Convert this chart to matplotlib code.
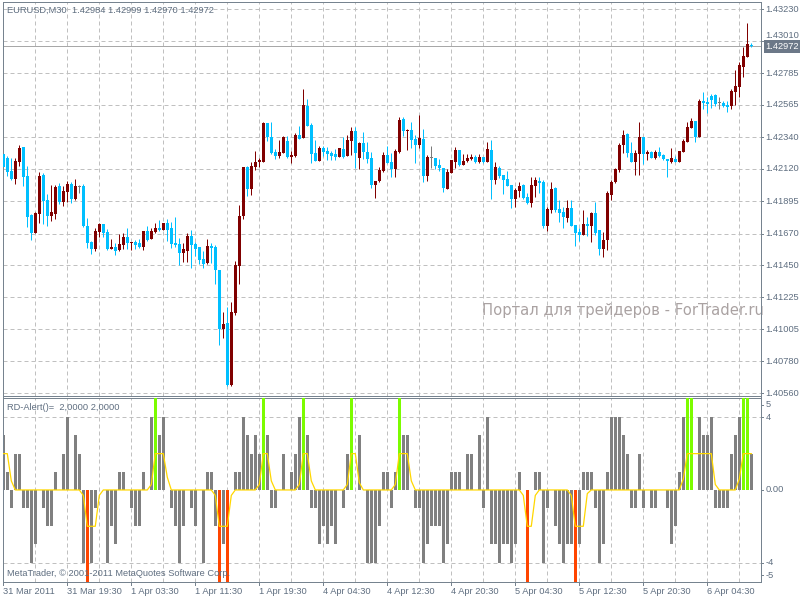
import matplotlib
matplotlib.use("Agg")
import matplotlib.pyplot as plt
from matplotlib.transforms import blended_transform_factory as btf

plt.rcParams['font.family'] = ['Liberation Sans', 'DejaVu Sans']

# ---------------- data: EURUSD M30 candles ----------------
opens = [1.42224, 1.42196, 1.42105, 1.42050, 1.42168, 1.42272, 1.42070, 1.41799, 1.41674, 1.41806,
         1.42077, 1.41903, 1.41792, 1.41806, 1.42001, 1.41889, 1.41959, 1.42015, 1.41910, 1.41994,
         1.42001, 1.41722, 1.41611, 1.41562, 1.41681, 1.41736, 1.41681, 1.41562, 1.41576, 1.41555,
         1.41590, 1.41646, 1.41604, 1.41611, 1.41604, 1.41576, 1.41688, 1.41632, 1.41681, 1.41708,
         1.41695, 1.41743, 1.41708, 1.41604, 1.41597, 1.41534, 1.41548, 1.41653, 1.41597, 1.41576,
         1.41493, 1.41465, 1.41583, 1.41576, 1.41416, 1.41006, 1.41047, 1.40616, 1.41117, 1.41444,
         1.41792, 1.42133, 1.41980, 1.42133, 1.42168, 1.42168, 1.42439, 1.42342, 1.42237, 1.42210,
         1.42230, 1.42314, 1.42203, 1.42210, 1.42356, 1.42335, 1.42558, 1.42425, 1.42230, 1.42175,
         1.42265, 1.42244, 1.42230, 1.42224, 1.42203, 1.42258, 1.42210, 1.42314, 1.42384, 1.42196,
         1.42300, 1.42237, 1.42196, 1.42008, 1.42036, 1.42105, 1.42217, 1.42168, 1.42119, 1.42237,
         1.42467, 1.42384, 1.42391, 1.42328, 1.42286, 1.42328, 1.42070, 1.42196, 1.42196, 1.42147,
         1.42126, 1.41980, 1.42091, 1.42168, 1.42251, 1.42147, 1.42175, 1.42189, 1.42203, 1.42168,
         1.42203, 1.42168, 1.42251, 1.42043, 1.42126, 1.42077, 1.42050, 1.42008, 1.41910, 1.41966,
         1.42008, 1.41924, 1.41882, 1.42001, 1.42036, 1.42029, 1.41722, 1.41834, 1.41987, 1.41841,
         1.41820, 1.41778, 1.41848, 1.41729, 1.41681, 1.41660, 1.41736, 1.41722, 1.41813, 1.41695,
         1.41562, 1.41625, 1.41938, 1.42029, 1.42112, 1.42286, 1.42363, 1.42230, 1.42168, 1.42224,
         1.42342, 1.42224, 1.42237, 1.42196, 1.42237, 1.42217, 1.42189, 1.42168, 1.42189, 1.42168,
         1.42237, 1.42307, 1.42404, 1.42453, 1.42342, 1.42592, 1.42585, 1.42627, 1.42634, 1.42578,
         1.42578, 1.42565, 1.42558, 1.42655, 1.42690, 1.42829, 1.42899, 1.42984]
highs = [1.42258, 1.42210, 1.42196, 1.42196, 1.42286, 1.42272, 1.42140, 1.41806, 1.41820, 1.42098,
         1.42091, 1.41945, 1.42008, 1.42008, 1.42022, 1.42001, 1.42036, 1.42029, 1.42050, 1.42008,
         1.42015, 1.41778, 1.41618, 1.41708, 1.41743, 1.41736, 1.41702, 1.41632, 1.41604, 1.41667,
         1.41674, 1.41708, 1.41611, 1.41625, 1.41632, 1.41688, 1.41722, 1.41708, 1.41743, 1.41764,
         1.41743, 1.41771, 1.41750, 1.41785, 1.41639, 1.41604, 1.41674, 1.41695, 1.41611, 1.41576,
         1.41548, 1.41632, 1.41604, 1.41590, 1.41416, 1.41124, 1.41159, 1.41193, 1.41479, 1.41869,
         1.42133, 1.42140, 1.42168, 1.42244, 1.42196, 1.42446, 1.42439, 1.42446, 1.42258, 1.42321,
         1.42349, 1.42349, 1.42244, 1.42370, 1.42418, 1.42676, 1.42606, 1.42439, 1.42321, 1.42279,
         1.42279, 1.42272, 1.42244, 1.42258, 1.42265, 1.42342, 1.42356, 1.42411, 1.42411, 1.42307,
         1.42377, 1.42307, 1.42237, 1.42036, 1.42133, 1.42237, 1.42279, 1.42230, 1.42258, 1.42481,
         1.42481, 1.42398, 1.42446, 1.42356, 1.42495, 1.42398, 1.42217, 1.42279, 1.42196, 1.42189,
         1.42126, 1.42119, 1.42182, 1.42272, 1.42251, 1.42224, 1.42224, 1.42224, 1.42217, 1.42224,
         1.42203, 1.42307, 1.42321, 1.42168, 1.42140, 1.42077, 1.42105, 1.42008, 1.41987, 1.42029,
         1.42015, 1.41952, 1.42063, 1.42063, 1.42063, 1.42043, 1.41855, 1.42029, 1.41994, 1.41903,
         1.41855, 1.41903, 1.41903, 1.41729, 1.41708, 1.41834, 1.41785, 1.41820, 1.41889, 1.41695,
         1.41681, 1.41966, 1.42043, 1.42126, 1.42300, 1.42391, 1.42370, 1.42307, 1.42251, 1.42446,
         1.42342, 1.42251, 1.42244, 1.42251, 1.42272, 1.42224, 1.42189, 1.42265, 1.42210, 1.42244,
         1.42328, 1.42446, 1.42474, 1.42453, 1.42606, 1.42655, 1.42620, 1.42641, 1.42641, 1.42620,
         1.42592, 1.42592, 1.42676, 1.42808, 1.42864, 1.42968, 1.43135, 1.42999]
lows = [1.42126, 1.42070, 1.42043, 1.42015, 1.42140, 1.42001, 1.41715, 1.41625, 1.41674, 1.41743,
        1.41736, 1.41722, 1.41757, 1.41771, 1.41876, 1.41862, 1.41889, 1.41882, 1.41903, 1.41952,
        1.41715, 1.41569, 1.41528, 1.41548, 1.41646, 1.41646, 1.41555, 1.41562, 1.41521, 1.41548,
        1.41562, 1.41562, 1.41555, 1.41562, 1.41569, 1.41555, 1.41618, 1.41632, 1.41674, 1.41688,
        1.41695, 1.41618, 1.41569, 1.41576, 1.41451, 1.41472, 1.41472, 1.41430, 1.41514, 1.41458,
        1.41430, 1.41458, 1.41465, 1.41319, 1.40894, 1.40943, 1.40609, 1.40609, 1.41103, 1.41319,
        1.41771, 1.41931, 1.41938, 1.42112, 1.42133, 1.42168, 1.42314, 1.42224, 1.42189, 1.42196,
        1.42230, 1.42196, 1.42161, 1.42203, 1.42328, 1.42335, 1.42418, 1.42161, 1.42175, 1.42175,
        1.42210, 1.42182, 1.42182, 1.42182, 1.42203, 1.42196, 1.42210, 1.42217, 1.42126, 1.42119,
        1.42189, 1.42161, 1.41987, 1.41917, 1.42029, 1.42098, 1.42161, 1.42063, 1.42063, 1.42230,
        1.42349, 1.42251, 1.42265, 1.42161, 1.42265, 1.42029, 1.42036, 1.42126, 1.42119, 1.42105,
        1.41959, 1.41980, 1.42091, 1.42126, 1.42140, 1.42147, 1.42168, 1.42182, 1.42161, 1.42161,
        1.42161, 1.42168, 1.41910, 1.42015, 1.42056, 1.41945, 1.42001, 1.41848, 1.41855, 1.41924,
        1.41910, 1.41876, 1.41855, 1.41924, 1.41952, 1.41708, 1.41688, 1.41813, 1.41820, 1.41750,
        1.41708, 1.41750, 1.41722, 1.41583, 1.41618, 1.41660, 1.41653, 1.41611, 1.41660, 1.41521,
        1.41507, 1.41555, 1.41903, 1.42022, 1.42098, 1.42230, 1.42203, 1.42168, 1.42077, 1.42077,
        1.42154, 1.42182, 1.42196, 1.42189, 1.42203, 1.42182, 1.42063, 1.42161, 1.42168, 1.42168,
        1.42237, 1.42307, 1.42404, 1.42307, 1.42342, 1.42537, 1.42509, 1.42544, 1.42558, 1.42537,
        1.42551, 1.42516, 1.42537, 1.42565, 1.42620, 1.42759, 1.42899, 1.42970]
closes = [1.42133, 1.42098, 1.42050, 1.42175, 1.42265, 1.42063, 1.41785, 1.41674, 1.41813, 1.42070,
          1.41896, 1.41792, 1.41820, 1.41994, 1.41889, 1.41966, 1.42015, 1.41910, 1.42001, 1.41994,
          1.41722, 1.41604, 1.41562, 1.41688, 1.41736, 1.41674, 1.41562, 1.41576, 1.41548, 1.41597,
          1.41646, 1.41604, 1.41611, 1.41590, 1.41576, 1.41688, 1.41625, 1.41688, 1.41708, 1.41695,
          1.41743, 1.41695, 1.41597, 1.41590, 1.41534, 1.41562, 1.41653, 1.41590, 1.41562, 1.41486,
          1.41458, 1.41583, 1.41569, 1.41416, 1.41006, 1.41040, 1.40616, 1.41124, 1.41451, 1.41792,
          1.42133, 1.41980, 1.42140, 1.42168, 1.42182, 1.42439, 1.42342, 1.42230, 1.42210, 1.42237,
          1.42342, 1.42203, 1.42217, 1.42356, 1.42328, 1.42565, 1.42418, 1.42224, 1.42175, 1.42265,
          1.42237, 1.42224, 1.42210, 1.42203, 1.42265, 1.42203, 1.42321, 1.42384, 1.42230, 1.42300,
          1.42237, 1.42189, 1.42008, 1.42036, 1.42112, 1.42217, 1.42161, 1.42119, 1.42244, 1.42460,
          1.42384, 1.42391, 1.42321, 1.42286, 1.42335, 1.42070, 1.42203, 1.42196, 1.42140, 1.42126,
          1.41987, 1.42098, 1.42182, 1.42251, 1.42147, 1.42175, 1.42196, 1.42203, 1.42168, 1.42203,
          1.42168, 1.42258, 1.42043, 1.42133, 1.42070, 1.42043, 1.42001, 1.41910, 1.41973, 1.42001,
          1.41917, 1.41882, 1.42008, 1.42043, 1.42022, 1.41722, 1.41841, 1.41980, 1.41834, 1.41813,
          1.41785, 1.41848, 1.41722, 1.41674, 1.41660, 1.41736, 1.41722, 1.41813, 1.41674, 1.41562,
          1.41625, 1.41952, 1.42029, 1.42119, 1.42286, 1.42356, 1.42230, 1.42168, 1.42230, 1.42342,
          1.42224, 1.42237, 1.42196, 1.42237, 1.42210, 1.42189, 1.42175, 1.42196, 1.42168, 1.42244,
          1.42314, 1.42411, 1.42453, 1.42342, 1.42592, 1.42578, 1.42572, 1.42599, 1.42572, 1.42578,
          1.42558, 1.42551, 1.42662, 1.42697, 1.42843, 1.42906, 1.42989, 1.42972]

# ---------------- data: RD-Alert indicator ----------------
hist = [3, 1, -1, 2, 2, -1, -1, -4, -3, 0,
        -1, -2, -2, 1, 0, 2, 4, 0, 3, 2,
        -4, 0, -4, -1, 0, 0, -4, -2, -3, 1,
        1, 0, -1, -2, -2, 1, 0, 4, 0, 3,
        4, 0, -1, -2, -4, -2, 0, -1, -2, 0,
        -4, 1, 1, -2, 0, -3, 0, 0, 1, 1,
        4, 3, 2, 3, 2, 0, 3, -1, -1, 0,
        2, 0, 1, 2, 4, 0, 3, -1, -1, -3,
        -2, -3, -2, -3, 0, -1, 2, 0, 0, 3,
        0, -4, -4, -4, -2, 1, 1, -1, 1, 0,
        3, 3, 0, -1, -1, -4, -3, -2, -2, -2,
        -4, -3, 1, 1, 1, 0, 2, 2, 0, 3,
        -1, 4, -3, -3, -4, -3, -3, -4, -3, 1,
        0, 0, 0, 1, 1, -4, -1, 0, -2, -3,
        -4, -3, -3, 0, -3, 1, 1, 1, -1, -4,
        -3, 1, 4, 4, 4, 3, 2, -1, -1, 2,
        -1, 0, -1, -1, 0, 0, -1, -3, -2, 1,
        4, 0, 0, 0, 4, 3, 3, 4, -1, -1,
        -1, -1, 2, 3, 4, 0, 0, 2]
up_signals = [38, 65, 75, 87, 99, 171, 172, 185, 186]
down_signals = [21, 54, 56, 131, 143]
signal_level = 5.3
yellow_nonzero = {0: 2, 1: 2, 2: 0.5,
                  20: -0.3, 21: -2, 22: -2, 23: -2, 24: -0.3,
                  37: 0.3, 38: 2, 39: 2, 40: 2, 41: 0.7,
                  53: -0.3, 54: -2, 55: -2, 56: -2, 57: -0.3,
                  64: 0.3, 65: 2, 66: 2, 67: 0.5,
                  74: 0.3, 75: 2, 76: 2, 77: 0.5,
                  86: 0.3, 87: 2, 88: 2, 89: 0.4,
                  98: 0.3, 99: 2, 100: 2, 101: 2, 102: 0.5,
                  130: -0.3, 131: -2, 132: -2, 133: -0.3,
                  142: -0.3, 143: -2, 144: -2, 145: -2, 146: -0.2,
                  170: 0.6, 171: 2, 172: 2, 173: 2, 174: 2, 175: 2, 176: 2, 177: 2, 178: 0.3,
                  184: 0.6, 185: 2, 186: 2, 187: 2}

price_ticks = [1.43230, 1.43010, 1.42785, 1.42565, 1.42340, 1.42120, 1.41895,
               1.41670, 1.41450, 1.41225, 1.41005, 1.40780, 1.40560]
ind_ticks = [4.7, 4, 0, -4, -4.7]
ind_tick_labels = ["5", "4", "0.00", "-4", "-5"]
time_tick_pos = [0, 16, 32, 48, 64, 80, 96, 112, 128, 144, 160, 176]
time_labels = ["31 Mar 2011", "31 Mar 19:30", "1 Apr 03:30", "1 Apr 11:30", "1 Apr 19:30",
               "4 Apr 04:30", "4 Apr 12:30", "4 Apr 20:30", "5 Apr 04:30", "5 Apr 12:30",
               "5 Apr 20:30", "6 Apr 04:30"]
title = "EURUSD,M30  1.42984 1.42999 1.42970 1.42972"
ind_title = "RD-Alert()=  2,0000 2,0000"
copyright_txt = "MetaTrader, \u00a9 2001-2011 MetaQuotes Software Corp."
watermark = "Портал для трейдеров - ForTrader.ru"

# ---------------- styles ----------------
UP = '#800000'
DN = '#00BFFF'
DOJI = '#7a7a7a'
GRID = '#c0c0c0'
SPINE = '#76838f'
TXT = '#5f6e80'
PX = 0.72  # one pixel in points at dpi 100

W, H = 800, 600
fig = plt.figure(figsize=(8, 6), dpi=100)
fig.patch.set_facecolor('white')

def frac(x0, y0, x1, y1):
    return [x0 / W, 1 - y1 / H, (x1 - x0) / W, (y1 - y0) / H]

ax = fig.add_axes(frac(2.5, 2, 760.5, 395.5))
ax2 = fig.add_axes(frac(2.5, 397.5, 760.5, 581.5), sharex=ax)

n = len(opens)
xs = list(range(n))
ax.set_xlim(-0.2, 189.3)
ax.set_ylim(1.40543, 1.43281)
ax2.set_ylim(-5.04, 5.09)

for a in (ax, ax2):
    for s in a.spines.values():
        s.set_color(SPINE)
        s.set_linewidth(PX)
    a.tick_params(left=False, labelleft=False, right=False, labelright=False,
                  bottom=False, labelbottom=False, top=False)
    a.set_facecolor('white')
    for k in range(8, 190, 8):
        a.axvline(k, color=GRID, lw=PX, ls=(0, (4, 3)), zorder=0)

# price grid
for p in price_ticks:
    ax.axhline(p, color=GRID, lw=PX, ls=(0, (4, 3)), zorder=0)

# candles
colors = []
for o, c in zip(opens, closes):
    colors.append(UP if c > o else (DN if c < o else DOJI))
ax.vlines(xs, lows, highs, colors=colors, lw=PX, zorder=2)
bottoms = [min(o, c) for o, c in zip(opens, closes)]
heights = [max(abs(c - o), 0.00008) for o, c in zip(opens, closes)]
ax.bar(xs, heights, bottom=bottoms, width=0.75, color=colors, linewidth=0, zorder=3)

# current price line
ax.axhline(closes[-1], color='#a8a8a8', lw=PX, zorder=1)

# price axis labels
tr = btf(fig.transFigure, ax.transData)
for p in price_ticks:
    ax.plot([760.5 / W, 763 / W], [p, p], transform=tr, color=SPINE, lw=PX, clip_on=False)
    if abs(p - closes[-1]) < 0.0005:
        # label next to the current-price box: lift it just above the box
        ax.text(765.5 / W, 1 - 36 / H, f"{p:.5f}", transform=fig.transFigure, ha='left',
                va='center', fontsize=6.7, color=TXT, clip_on=False)
    else:
        ax.text(765.5 / W, p, f"{p:.5f}", transform=tr, ha='left', va='center',
                fontsize=6.7, color=TXT, clip_on=False)
ax.text(765.5 / W, closes[-1], f"{closes[-1]:.5f}", transform=tr, ha='left', va='center',
        fontsize=6.7, color='white', clip_on=False, zorder=10,
        bbox=dict(boxstyle='square,pad=0.2', fc='#6c7888', ec='none'))

ax.text(7 / W, 1 - 10 / H, title, transform=fig.transFigure, ha='left', va='center',
        fontsize=6.7, color=TXT)
ax.text(482 / W, 1 - 310 / H, watermark, transform=fig.transFigure, ha='left', va='center',
        fontsize=10.6, color='#aaa2a2', family='DejaVu Sans', zorder=1)

# indicator
ax2.axhline(4, color=GRID, lw=PX, ls=(0, (4, 3)), zorder=0)
ax2.axhline(-4, color=GRID, lw=PX, ls=(0, (4, 3)), zorder=0)
ax2.bar(xs, hist, width=0.65, color='#808080', linewidth=0, zorder=2)
ax2.bar(up_signals, [signal_level] * len(up_signals), width=0.85, color='#7CFC00',
        linewidth=0, zorder=3)
ax2.bar(down_signals, [-signal_level] * len(down_signals), width=0.85, color='#FF4500',
        linewidth=0, zorder=3)
yellow = [yellow_nonzero.get(i, 0) for i in xs]
ax2.plot(xs, yellow, color='#FFD700', lw=0.9, zorder=4)

tr2 = btf(fig.transFigure, ax2.transData)
for v, lab in zip(ind_ticks, ind_tick_labels):
    ax2.text(765.5 / W, v, lab, transform=tr2, ha='left', va='center',
             fontsize=6.7, color=TXT, clip_on=False)
    ax2.plot([760.5 / W, 763 / W], [v, v], transform=tr2, color=SPINE, lw=PX, clip_on=False)

ax2.text(7 / W, 1 - 407 / H, ind_title, transform=fig.transFigure, ha='left', va='center',
         fontsize=6.7, color=TXT)
ax2.text(7 / W, 1 - 574 / H, copyright_txt, transform=fig.transFigure, ha='left',
         va='center', fontsize=6.7, color=TXT, zorder=6)

# time axis
trx = btf(ax2.transData, fig.transFigure)
for pos, lab in zip(time_tick_pos, time_labels):
    ax2.plot([pos, pos], [1 - 581.5 / H, 1 - 584.5 / H], transform=trx, color=SPINE,
             lw=PX, clip_on=False)
    ax2.text(pos, 1 - 591.5 / H, lab, transform=trx, ha='left', va='center',
             fontsize=6.7, color=TXT, clip_on=False)

fig.savefig('out.png', dpi=100, facecolor='white')
